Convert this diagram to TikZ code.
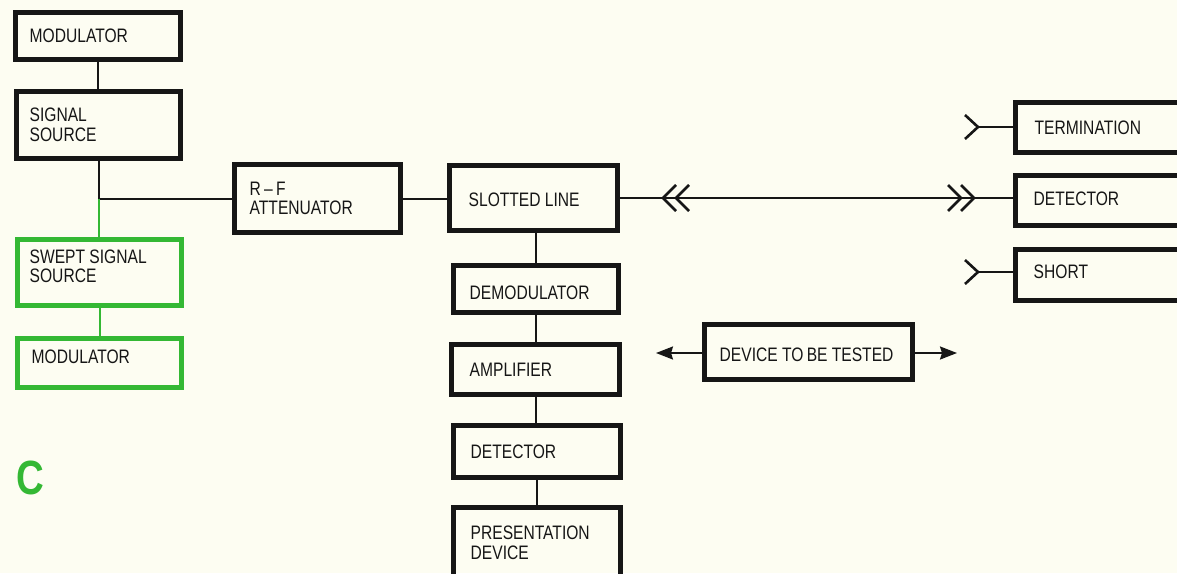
\documentclass[tikz,border=0pt]{standalone}
\usepackage{fontspec}
\setmainfont{Liberation Sans}[FakeStretch=0.8]
\usetikzlibrary{positioning,arrows.meta}
\definecolor{bg}{RGB}{253,253,242}
\definecolor{ink}{RGB}{22,22,22}
\definecolor{grn}{RGB}{52,184,52}
\begin{document}
\begin{tikzpicture}[x=1pt,y=-1pt,
  box/.style={draw=ink, line width=5pt, inner sep=0pt},
  gbox/.style={box, draw=grn},
  txt/.style={font=\fontsize{19.5}{19.5}\selectfont, text=ink, align=left, inner sep=0pt},
  wire/.style={draw=ink, line width=2pt},
  gwire/.style={draw=grn, line width=2pt},
  chev/.style={draw=ink, line width=2.6pt},
  arr/.style={wire, -{Stealth[length=17pt,width=13pt,inset=2pt]}}]
\useasboundingbox (0,0) rectangle (1177,573);
\fill[bg] (0,0) rectangle (1177,573);
\clip (0,0) rectangle (1177,573);

% left column
\node[box, minimum width=165pt, minimum height=47pt] (mod1) at (98,36) {};
\node[txt, right=16.5pt of mod1.west] (mod1t) {MODULATOR};
\node[box, minimum width=164pt, minimum height=67pt] (signal) at (98.5,125) {};
\node[txt, right=15.5pt of signal.west] (signalt) {SIGNAL\\SOURCE};
\node[gbox, minimum width=164pt, minimum height=66pt] (swept) at (99.5,272.5) {};
\node[txt, right=14.5pt of swept.west, yshift=6pt] (sweptt) {SWEPT SIGNAL\\SOURCE};
\node[gbox, minimum width=164pt, minimum height=49pt] (mod2) at (99.5,363) {};
\node[txt, right=16.5pt of mod2.west, yshift=6pt] (mod2t) {MODULATOR};
\node[box, minimum width=166pt, minimum height=68pt] (rf) at (317.5,198.5) {};
\node[txt, right=17.5pt of rf.west] (rft) {R\,--\,F\\ATTENUATOR};

% middle column
\node[box, minimum width=168pt, minimum height=65pt] (slotted) at (533.5,198) {};
\node[txt, right=21.5pt of slotted.west, yshift=-2pt] (slottedt) {SLOTTED LINE};
\node[box, minimum width=165pt, minimum height=47pt] (demod) at (536,289) {};
\node[txt, right=18.5pt of demod.west, yshift=-4pt] (demodt) {DEMODULATOR};
\node[box, minimum width=168pt, minimum height=50pt] (amp) at (535.5,369.5) {};
\node[txt, right=20.5pt of amp.west] (ampt) {AMPLIFIER};
\node[box, minimum width=167pt, minimum height=52pt] (det) at (537,451.5) {};
\node[txt, right=19.5pt of det.west] (dett) {DETECTOR};
\node[box, minimum width=167pt, minimum height=70.5pt] (pres) at (537,542.75) {};
\node[txt, right=19.5pt of pres.west] (prest) {PRESENTATION\\DEVICE};

% device under test
\node[box, minimum width=208pt, minimum height=55pt] (dev) at (808.5,352) {};
\node[txt, right=17.5pt of dev.west, yshift=-3pt] (devt) {DEVICE TO\,BE TESTED};

% right column
\node[box, minimum width=184.5pt, minimum height=50pt] (term) at (1107.75,127.5) {};
\node[txt, right=21.5pt of term.west] (termt) {TERMINATION};
\node[box, minimum width=184.5pt, minimum height=50pt] (detr) at (1107.75,200.5) {};
\node[txt, right=20.5pt of detr.west, yshift=2pt] (detrt) {DETECTOR};
\node[box, minimum width=184.5pt, minimum height=51pt] (short) at (1107.75,275) {};
\node[txt, right=20.5pt of short.west, yshift=3pt] (shortt) {SHORT};

% label C
\node[font=\fontsize{48}{48}\selectfont\bfseries, text=grn, inner sep=0pt] (lblC) at (30,478) {C};

% connectors left
\draw[wire] (mod1.south) -- (mod1.south |- signal.north);
\coordinate (j) at (signal.south |- rf.west);
\draw[wire] (signal.south) -- (j) -- (rf.west);
\draw[gwire] (j) -- (j |- swept.north);
\draw[gwire] (swept.south) -- (swept.south |- mod2.north);
\draw[wire] (rf.east) -- (rf.east -| slotted.west);

% connectors middle
\draw[wire] (demod.north |- slotted.south) -- (demod.north);
\draw[wire] (demod.south) -- (demod.south |- amp.north);
\draw[wire] (amp.south) -- (amp.south |- det.north);
\draw[wire] (det.south) -- (det.south |- pres.north);

% slotted line to detector with double chevrons
\draw[wire] (slotted.east) -- (slotted.east -| detr.west);
\coordinate (cl) at (663,198);
\coordinate (cl2) at (676,198);
\coordinate (cr) at (974,198);
\coordinate (cr2) at (961,198);
\draw[chev] (cl) ++(13,-13) -- (cl) -- ++(13,13);
\draw[chev] (cl2) ++(13,-13) -- (cl2) -- ++(13,13);
\draw[chev] (cr) ++(-13,-13) -- (cr) -- ++(-13,13);
\draw[chev] (cr2) ++(-13,-13) -- (cr2) -- ++(-13,13);

% termination and short connectors
\coordinate (tt) at (978,127);
\draw[wire] (tt) -- (term.west |- tt);
\draw[chev] (tt) ++(-13,-12) -- (tt) -- ++(-13,12);
\coordinate (ts) at (978,272);
\draw[wire] (ts) -- (short.west |- ts);
\draw[chev] (ts) ++(-13,-12) -- (ts) -- ++(-13,12);

% device arrows
\coordinate (al) at (656,353);
\coordinate (ar) at (957,353);
\draw[arr] (dev.west |- al) -- (al);
\draw[arr] (dev.east |- ar) -- (ar);
\end{tikzpicture}
\end{document}
